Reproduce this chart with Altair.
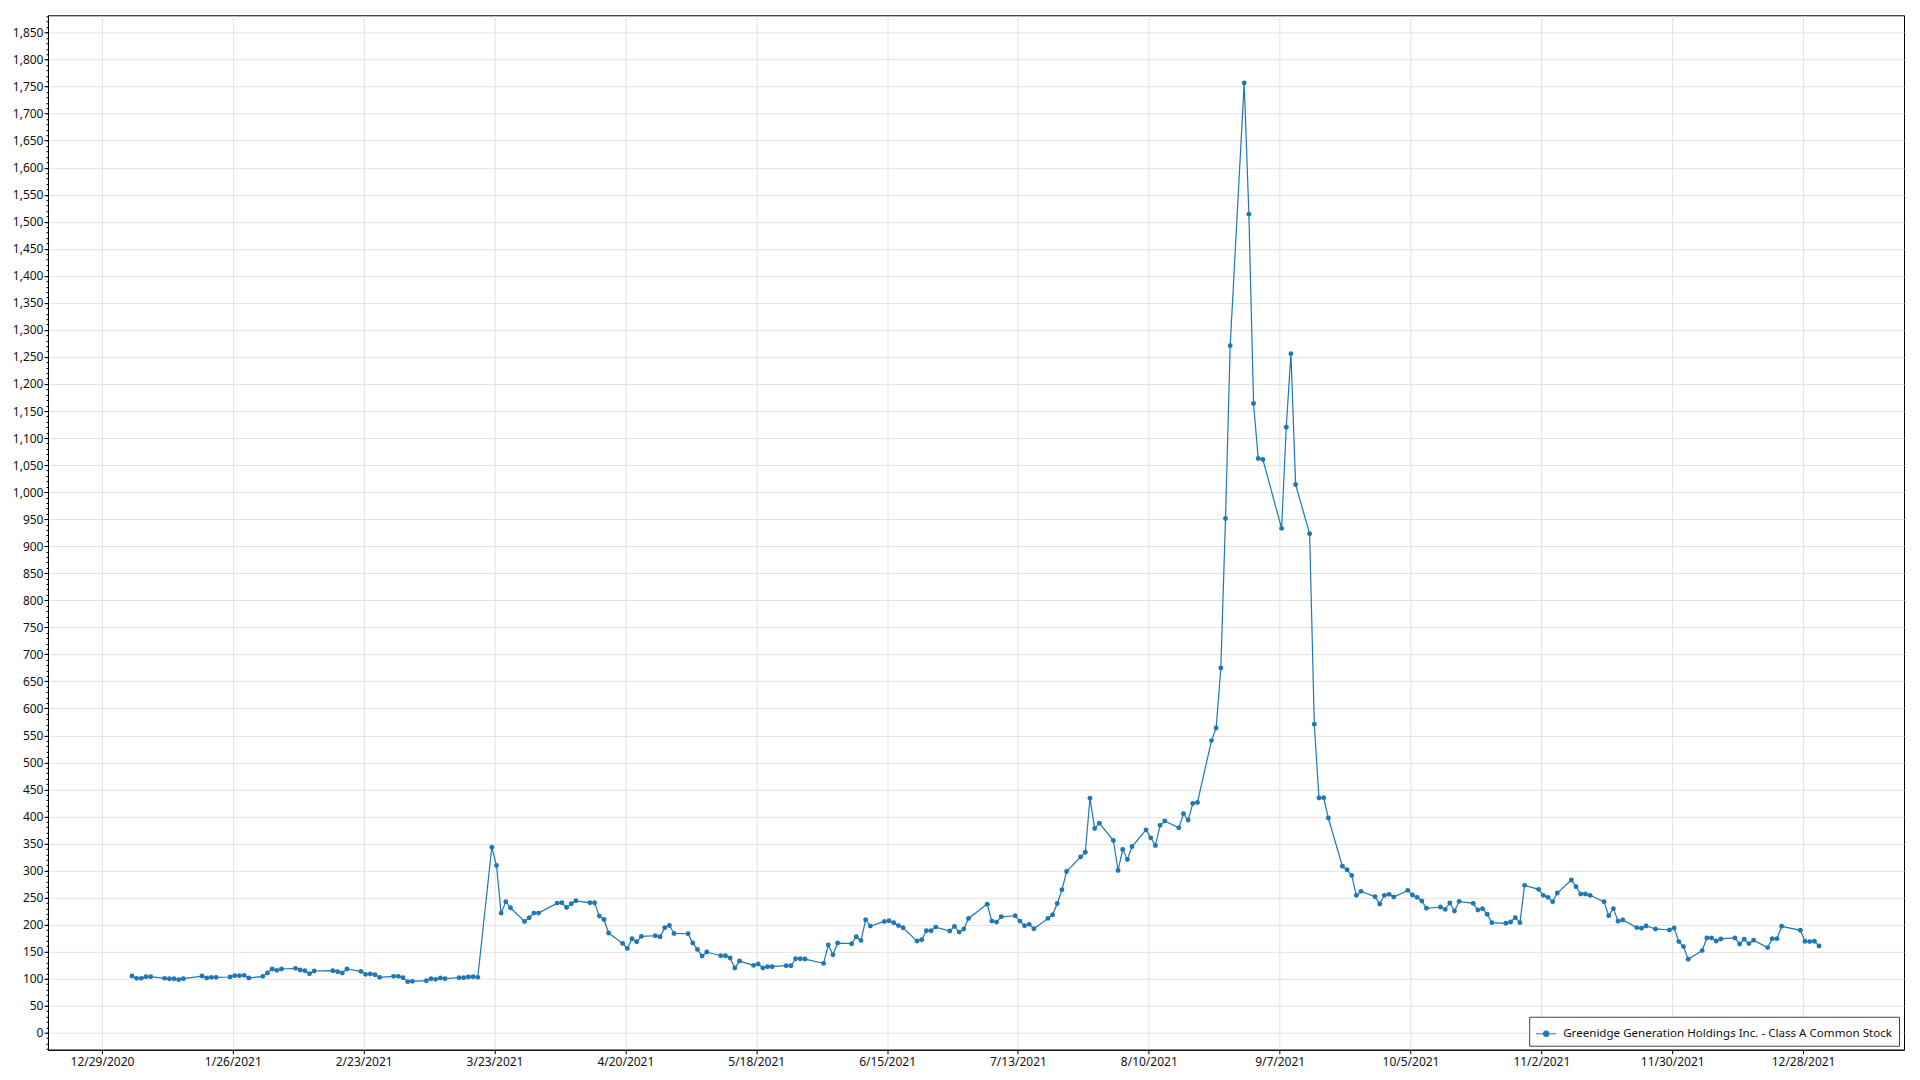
import altair as alt
import pandas as pd

series_name = "Greenidge Generation Holdings Inc. - Class A Common Stock"

dates = [
    "2021-01-04", "2021-01-05", "2021-01-06", "2021-01-07", "2021-01-08",
    "2021-01-11", "2021-01-12", "2021-01-13", "2021-01-14", "2021-01-15",
    "2021-01-19", "2021-01-20", "2021-01-21", "2021-01-22",
    "2021-01-25", "2021-01-26", "2021-01-27", "2021-01-28", "2021-01-29",
    "2021-02-01", "2021-02-02", "2021-02-03", "2021-02-04", "2021-02-05",
    "2021-02-08", "2021-02-09", "2021-02-10", "2021-02-11", "2021-02-12",
    "2021-02-16", "2021-02-17", "2021-02-18", "2021-02-19",
    "2021-02-22", "2021-02-23", "2021-02-24", "2021-02-25", "2021-02-26",
    "2021-03-01", "2021-03-02", "2021-03-03", "2021-03-04", "2021-03-05",
    "2021-03-08", "2021-03-09", "2021-03-10", "2021-03-11", "2021-03-12",
    "2021-03-15", "2021-03-16", "2021-03-17", "2021-03-18", "2021-03-19",
    "2021-03-22", "2021-03-23", "2021-03-24", "2021-03-25", "2021-03-26",
    "2021-03-29", "2021-03-30", "2021-03-31", "2021-04-01",
    "2021-04-05", "2021-04-06", "2021-04-07", "2021-04-08", "2021-04-09",
    "2021-04-12", "2021-04-13", "2021-04-14", "2021-04-15", "2021-04-16",
    "2021-04-19", "2021-04-20", "2021-04-21", "2021-04-22", "2021-04-23",
    "2021-04-26", "2021-04-27", "2021-04-28", "2021-04-29", "2021-04-30",
    "2021-05-03", "2021-05-04", "2021-05-05", "2021-05-06", "2021-05-07",
    "2021-05-10", "2021-05-11", "2021-05-12", "2021-05-13", "2021-05-14",
    "2021-05-17", "2021-05-18", "2021-05-19", "2021-05-20", "2021-05-21",
    "2021-05-24", "2021-05-25", "2021-05-26", "2021-05-27", "2021-05-28",
    "2021-06-01", "2021-06-02", "2021-06-03", "2021-06-04",
    "2021-06-07", "2021-06-08", "2021-06-09", "2021-06-10", "2021-06-11",
    "2021-06-14", "2021-06-15", "2021-06-16", "2021-06-17", "2021-06-18",
    "2021-06-21", "2021-06-22", "2021-06-23", "2021-06-24", "2021-06-25",
    "2021-06-28", "2021-06-29", "2021-06-30", "2021-07-01", "2021-07-02",
    "2021-07-06", "2021-07-07", "2021-07-08", "2021-07-09",
    "2021-07-12", "2021-07-13", "2021-07-14", "2021-07-15", "2021-07-16",
    "2021-07-19", "2021-07-20", "2021-07-21", "2021-07-22", "2021-07-23",
    "2021-07-26", "2021-07-27", "2021-07-28", "2021-07-29", "2021-07-30",
    "2021-08-02", "2021-08-03", "2021-08-04", "2021-08-05", "2021-08-06",
    "2021-08-09", "2021-08-10", "2021-08-11", "2021-08-12", "2021-08-13",
    "2021-08-16", "2021-08-17", "2021-08-18", "2021-08-19", "2021-08-20",
    "2021-08-23", "2021-08-24", "2021-08-25", "2021-08-26", "2021-08-27",
    "2021-08-30", "2021-08-31", "2021-09-01", "2021-09-02", "2021-09-03",
    "2021-09-07", "2021-09-08", "2021-09-09", "2021-09-10",
    "2021-09-13", "2021-09-14", "2021-09-15", "2021-09-16", "2021-09-17",
    "2021-09-20", "2021-09-21", "2021-09-22", "2021-09-23", "2021-09-24",
    "2021-09-27", "2021-09-28", "2021-09-29", "2021-09-30", "2021-10-01",
    "2021-10-04", "2021-10-05", "2021-10-06", "2021-10-07", "2021-10-08",
    "2021-10-11", "2021-10-12", "2021-10-13", "2021-10-14", "2021-10-15",
    "2021-10-18", "2021-10-19", "2021-10-20", "2021-10-21", "2021-10-22",
    "2021-10-25", "2021-10-26", "2021-10-27", "2021-10-28", "2021-10-29",
    "2021-11-01", "2021-11-02", "2021-11-03", "2021-11-04", "2021-11-05",
    "2021-11-08", "2021-11-09", "2021-11-10", "2021-11-11", "2021-11-12",
    "2021-11-15", "2021-11-16", "2021-11-17", "2021-11-18", "2021-11-19",
    "2021-11-22", "2021-11-23", "2021-11-24", "2021-11-26",
    "2021-11-29", "2021-11-30", "2021-12-01", "2021-12-02", "2021-12-03",
    "2021-12-06", "2021-12-07", "2021-12-08", "2021-12-09", "2021-12-10",
    "2021-12-13", "2021-12-14", "2021-12-15", "2021-12-16", "2021-12-17",
    "2021-12-20", "2021-12-21", "2021-12-22", "2021-12-23",
    "2021-12-27", "2021-12-28", "2021-12-29", "2021-12-30", "2021-12-31",
]

values = [
    104.9, 100.6, 100.6, 103.7, 103.7,
    100.6, 100.0, 100.0, 98.2, 100.0,
    104.9, 101.2, 102.5, 102.5,
    103.1, 105.5, 105.5, 106.2, 101.2,
    104.3, 110.5, 117.9, 115.4, 117.9,
    119.1, 116.0, 114.8, 109.2, 114.2,
    114.8, 112.9, 110.5, 117.9,
    113.5, 108.0, 108.6, 107.4, 102.5,
    104.3, 104.3, 101.8, 94.5, 95.1,
    96.3, 100.0, 98.8, 101.2, 100.0,
    101.8, 101.8, 103.1, 103.7, 102.5,
    343.2, 309.4, 221.3, 242.2, 231.2,
    205.9, 212.7, 221.3, 221.3,
    239.8, 240.4, 231.8, 238.6, 244.1,
    240.4, 240.4, 215.8, 209.6, 184.4,
    165.3, 156.0, 173.9, 168.4, 178.2,
    179.4, 177.6, 194.2, 198.5, 183.7,
    183.1, 165.9, 154.2, 141.9, 149.3,
    142.5, 142.5, 138.2, 119.7, 132.6,
    124.6, 127.1, 119.7, 122.2, 122.2,
    124.0, 124.0, 136.9, 136.9, 136.3,
    128.3, 162.2, 144.3, 165.9,
    164.7, 177.6, 170.8, 209.0, 197.3,
    205.9, 207.1, 203.5, 198.2, 194.2,
    169.6, 172.0, 188.7, 188.7, 195.4,
    188.1, 196.7, 186.2, 191.8, 211.5,
    237.9, 206.5, 204.7, 214.5,
    216.4, 206.5, 197.9, 200.4, 192.4,
    211.5, 218.2, 239.2, 264.4, 298.3,
    325.4, 334.0, 433.8, 377.7, 387.6,
    355.6, 300.1, 338.9, 320.5, 344.5,
    375.3, 360.5, 346.3, 383.6, 391.6,
    379.0, 405.1, 393.4, 424.0, 425.9,
    540.4, 563.8, 674.6, 951.2, 1270.9,
    1756.8, 1514.1, 1163.8, 1062.1, 1060.3,
    933.0, 1120.0, 1256.1, 1014.1,
    922.9, 570.6, 434.2, 434.8, 397.2,
    308.0, 301.5, 291.1, 254.2, 261.6,
    251.7, 238.2, 254.2, 256.0, 251.1,
    263.4, 254.8, 250.5, 243.7, 230.2,
    232.6, 228.3, 240.0, 225.2, 243.1,
    239.4, 227.1, 229.6, 219.1, 203.7,
    202.5, 204.9, 212.9, 203.7, 272.7,
    265.3, 254.2, 250.5, 242.5, 258.5,
    282.5, 270.2, 256.7, 256.7, 254.2,
    242.5, 216.6, 229.6, 206.2, 208.6,
    194.5, 193.2, 197.5, 192.0,
    190.1, 193.8, 168.6, 159.4, 136.0,
    152.0, 175.4, 175.4, 169.8, 173.5,
    175.4, 164.3, 172.9, 164.9, 171.1,
    157.5, 174.1, 174.1, 196.9,
    189.5, 169.2, 168.6, 169.2, 160.6,
]

x_tick_dates = [
    "2020-12-29", "2021-01-26", "2021-02-23", "2021-03-23", "2021-04-20",
    "2021-05-18", "2021-06-15", "2021-07-13", "2021-08-10", "2021-09-07",
    "2021-10-05", "2021-11-02", "2021-11-30", "2021-12-28",
]
y_major_ticks = list(range(0, 1851, 50))
y_minor_ticks = list(range(-30, 1881, 10))

BLUE = "#1f77b4"
FONT = "Noto Sans"


def to_ms(ts):
    return int((pd.Timestamp(ts) - pd.Timestamp("1970-01-01")) // pd.Timedelta(milliseconds=1))


ts = pd.to_datetime(dates) + pd.Timedelta(hours=10)
df = pd.DataFrame({
    "t": [to_ms(t) for t in ts],
    "value": values,
    "series": series_name,
})

x_ticks_ms = [to_ms(d) for d in x_tick_dates]
x_domain = [
    to_ms(pd.Timestamp("2020-12-29") - pd.Timedelta(days=11.55)),
    to_ms(pd.Timestamp("2021-12-28") + pd.Timedelta(days=21.6)),
]
y_domain = [-31.4, 1882]

x_scale = alt.Scale(type="utc", domain=x_domain, nice=False)
y_scale = alt.Scale(domain=y_domain, nice=False, zero=False)

x_axis = alt.Axis(values=x_ticks_ms, labelExpr="utcFormat(datum.value, '%-m/%-d/%Y')", title=None,
                  tickSize=4, labelPadding=3, grid=True, labelFlush=False, labelOverlap=False)
y_axis = alt.Axis(values=y_major_ticks, format=",d", title=None, tickSize=4, labelPadding=1,
                  grid=True, orient="left", labelOverlap=False)
y_minor_axis = alt.Axis(values=y_minor_ticks, labels=False, grid=False, tickSize=2,
                        domain=False, orient="left", title=None)

legend_symbol = "M-1,0H1M-0.26,0A0.26,0.26,0,1,1,0.26,0A0.26,0.26,0,1,1,-0.26,0Z"

color = alt.Color(
    "series:N",
    scale=alt.Scale(range=[BLUE]),
    legend=alt.Legend(
        title=None, orient="none", legendX=1482, legendY=1002,
        symbolType=legend_symbol, symbolSize=400, labelFontSize=11.6, labelFont=FONT,
        labelColor="#111", labelOffset=6, padding=6, strokeColor="#444444",
        fillColor="white", labelLimit=0, cornerRadius=0,
        symbolFillColor=BLUE, symbolStrokeColor=BLUE, symbolStrokeWidth=1.2,
        symbolOpacity=1,
    ),
)

base = alt.Chart(df)

line = base.mark_line(strokeWidth=1.2).encode(
    x=alt.X("t:T", scale=x_scale, axis=x_axis),
    y=alt.Y("value:Q", scale=y_scale, axis=y_axis),
    color=color,
)

points = base.mark_circle(size=24, opacity=1).encode(
    x=alt.X("t:T", scale=x_scale, axis=x_axis),
    y=alt.Y("value:Q", scale=y_scale, axis=None),
    color=color,
)

minor = base.mark_point(opacity=0).encode(
    x=alt.X("t:T", scale=x_scale, axis=x_axis),
    y=alt.Y("value:Q", scale=y_scale, axis=y_minor_axis),
)

# drop shadow behind the legend box (decoration only)
shadow = alt.Chart(pd.DataFrame({"k": [0]})).mark_rect(color="#8a8a8a", opacity=0.9).encode(
    x=alt.value(1485), x2=alt.value(1853), y=alt.value(1005), y2=alt.value(1031),
)

chart = (
    alt.layer(line, points, minor, shadow)
    .resolve_axis(y="independent")
    .resolve_scale(y="shared")
    .properties(
        width=1857, height=1035,
        padding={"left": 40, "top": 7, "right": 8, "bottom": 25},
        autosize=alt.AutoSizeParams(type="none"),
        background="white",
    )
    .configure_view(stroke="black", strokeWidth=1)
    .configure_axis(
        labelFont=FONT, labelFontSize=12, labelColor="#111",
        tickColor="black", domainColor="black", gridColor="#e2e2e2", gridWidth=1,
    )
)

chart.save("out.html", embed_options={"renderer": "svg", "actions": False})
